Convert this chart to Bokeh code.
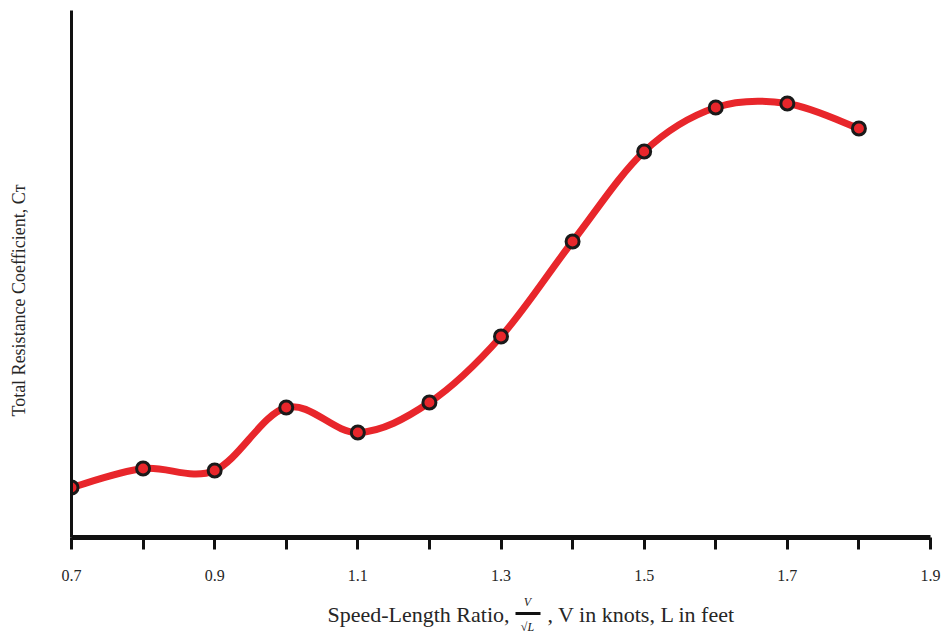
import numpy as np
from math import pi
from bokeh.plotting import figure
from bokeh.layouts import column
from bokeh.models import Range1d, FixedTicker, Label
from bokeh.core.properties import value
from bokeh.embed import file_html
from bokeh.resources import INLINE

# ---- data (y in arbitrary units, axis is unlabeled) ----
speed_length_ratio = [0.7, 0.8, 0.9, 1.0, 1.1, 1.2, 1.3, 1.4, 1.5, 1.6, 1.7, 1.8]
total_resistance = [50, 69, 67, 130, 105, 135, 201, 296, 386, 430, 434, 409]
x_tick_values = [0.7, 0.9, 1.1, 1.3, 1.5, 1.7, 1.9]
x_minor_values = [0.8, 1.0, 1.2, 1.4, 1.6, 1.8]

RED = "#e8262b"
FONT = "Liberation Serif"
TXT = "#262626"

p = figure(width=945, height=592,
           x_range=Range1d(0.7, 1.9), y_range=Range1d(0, 527),
           output_backend="svg", toolbar_location=None,
           min_border_left=71, min_border_right=15,
           min_border_top=10, min_border_bottom=55)
p.outline_line_color = None
p.grid.visible = False
p.background_fill_color = "white"
p.border_fill_color = "white"

xa = p.xaxis[0]
xa.ticker = FixedTicker(ticks=x_tick_values, minor_ticks=x_minor_values)
xa.axis_line_width = 5
xa.axis_line_color = "#111111"
xa.major_tick_in = 0
xa.major_tick_out = 12
xa.minor_tick_in = 0
xa.minor_tick_out = 12
xa.major_tick_line_width = 3
xa.minor_tick_line_width = 3
xa.major_tick_line_color = "#111111"
xa.minor_tick_line_color = "#111111"
xa.major_label_text_font = FONT
xa.major_label_text_font_size = "16px"
xa.major_label_text_color = TXT
xa.major_label_standoff = 20

ya = p.yaxis[0]
ya.ticker = FixedTicker(ticks=[])
ya.axis_line_width = 3
ya.axis_line_color = "#111111"
ya.major_tick_line_color = None
ya.minor_tick_line_color = None
ya.major_label_text_font_size = "0px"

# smooth curve through the points (Catmull-Rom -> cubic Bezier segments)
x = np.array(speed_length_ratio, dtype=float)
y = np.array(total_resistance, dtype=float)
xp = np.concatenate([[x[0]], x, [x[-1]]])
yp = np.concatenate([[y[0]], y, [y[-1]]])
n = len(x)
P0x, P1x, P2x, P3x = xp[0:n-1], xp[1:n], xp[2:n+1], xp[3:n+2]
P0y, P1y, P2y, P3y = yp[0:n-1], yp[1:n], yp[2:n+1], yp[3:n+2]
p.bezier(x0=P1x, y0=P1y, x1=P2x, y1=P2y,
         cx0=P1x + (P2x - P0x) / 6, cy0=P1y + (P2y - P0y) / 6,
         cx1=P2x - (P3x - P1x) / 6, cy1=P2y - (P3y - P1y) / 6,
         line_color=RED, line_width=7, line_cap="round")

p.scatter(speed_length_ratio, total_resistance, size=13,
          fill_color=RED, line_color="#1a1a1a", line_width=3)

# y axis title (left side panel)
p.add_layout(Label(x=-33, y=237, x_units="screen", y_units="screen",
                   text="Total Resistance Coefficient, C\u1d1b",
                   angle=pi / 2, text_align="center", text_baseline="middle",
                   text_font=FONT, text_font_size="18px", text_color=TXT), "left")

# x axis title, with the fraction V / sqrt(L), in a strip below the chart
# (the strip's frame is aligned with the chart's frame, so its x range is set in page pixels)
q = figure(width=945, height=44, x_range=Range1d(71, 930), y_range=Range1d(44, 0),
           output_backend="svg", toolbar_location=None,
           x_axis_type=None, y_axis_type=None,
           min_border=0, min_border_left=71, min_border_right=15,
           min_border_top=0, min_border_bottom=0)
q.outline_line_color = None
q.grid.visible = False
q.background_fill_color = "white"
q.border_fill_color = "white"

q.text(x=[509], y=[22], text=["Speed-Length Ratio,"], text_align="right",
       text_baseline="alphabetic", text_font=value(FONT), text_font_size="22px",
       text_color=TXT)
q.text(x=[547], y=[22], text=[", V in knots, L in feet"], text_align="left",
       text_baseline="alphabetic", text_font=value(FONT), text_font_size="22px",
       text_color=TXT)
q.text(x=[527], y=[9], text=["V"], text_align="center",
       text_baseline="alphabetic", text_font=value(FONT), text_font_style="italic",
       text_font_size="12px", text_color=TXT)
q.segment(x0=[515], y0=[21], x1=[540], y1=[21], line_color="#111111", line_width=3)
q.text(x=[527], y=[34], text=["\u221aL"], text_align="center",
       text_baseline="alphabetic", text_font=value(FONT), text_font_style="italic",
       text_font_size="12px", text_color="#111111")

layout = column(p, q, spacing=0)
open("out.html", "w").write(file_html(layout, INLINE))
